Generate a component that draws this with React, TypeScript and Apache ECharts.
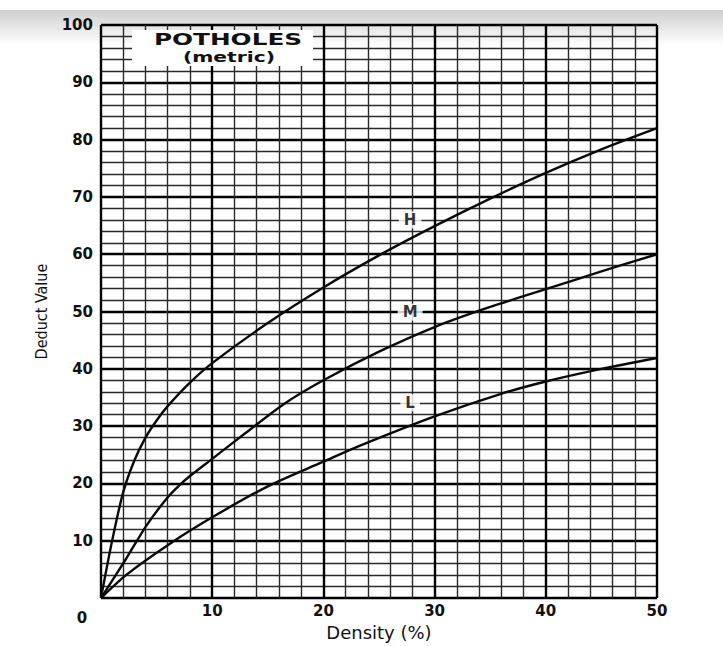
import React, { useEffect, useRef } from "react";
import * as echarts from "echarts";

const xTicks = [0, 10, 20, 30, 40, 50];
const yTicks = [0, 10, 20, 30, 40, 50, 60, 70, 80, 90, 100];

const densityH = [0, 1, 2, 3, 4, 5, 6, 8, 10, 15, 20, 25, 30, 35, 40, 45, 50];
const deductH = [0, 10, 18.5, 24, 28, 31, 33.5, 37.6, 41, 48, 54.2, 59.8, 64.9, 69.7, 74.2, 78.3, 82];

const densityM = [0, 2.3, 4.1, 6, 7, 8, 10, 13, 16.4, 20, 25, 30, 35, 40, 45, 50];
const deductM = [0, 7, 12.7, 17.6, 19.6, 21.3, 24.3, 28.8, 33.8, 38, 43, 47.3, 50.8, 53.9, 57, 60];

const densityL = [0, 2.3, 6.2, 10, 15, 20, 23.3, 30, 35.9, 40, 45, 50];
const deductL = [0, 4.1, 9.5, 14.1, 19.5, 23.8, 26.6, 31.7, 35.6, 37.8, 40, 41.9];

const curveLabels = ["H", "M", "L"];
const labelX = [27.8, 27.8, 27.8];
const labelY = [66, 49.9, 34.1];

const pair = (xs: number[], ys: number[]) => xs.map((x, i) => [x, ys[i]]);

export default function App() {
  const ref = useRef<HTMLDivElement>(null);
  useEffect(() => {
    if (!ref.current) return;
    const chart = echarts.init(ref.current, null, { renderer: "svg" });
    const labelFont = "DejaVu Sans";
    const lineStyle = { color: "#0a0a0a", width: 2.4 };
    const curveSeries = [
      pair(densityH, deductH),
      pair(densityM, deductM),
      pair(densityL, deductL),
    ].map((d, i) => ({
      type: "line",
      name: curveLabels[i],
      data: d,
      smooth: 0.3,
      showSymbol: false,
      symbol: "none",
      lineStyle,
      z: 3,
    }));
    chart.setOption({
      animation: false,
      backgroundColor: "#ffffff",
      grid: { left: 101, right: 66, top: 25, bottom: 39 },
      xAxis: {
        type: "value",
        min: xTicks[0],
        max: xTicks[xTicks.length - 1],
        interval: 10,
        name: "Density (%)",
        nameLocation: "middle",
        nameGap: 20,
        nameTextStyle: { fontFamily: labelFont, fontSize: 18, color: "#111" },
        axisLine: { show: false },
        axisTick: { show: false },
        axisLabel: {
          margin: 5,
          fontFamily: labelFont,
          fontWeight: "bold",
          fontSize: 15,
          color: "#111",
          formatter: (v: number) => (v === 0 ? "" : String(v)),
        },
        splitLine: { show: true, lineStyle: { color: "#000", width: 2.4 } },
        minorTick: { show: false, splitNumber: 5 },
        minorSplitLine: { show: true, lineStyle: { color: "#2a2a2a", width: 1.4 } },
      },
      yAxis: {
        type: "value",
        min: yTicks[0],
        max: yTicks[yTicks.length - 1],
        interval: 10,
        name: "Deduct Value",
        nameLocation: "middle",
        nameGap: 52,
        nameTextStyle: {
          fontFamily: "DejaVu Sans Condensed, Liberation Sans Narrow, Liberation Sans",
          fontSize: 16,
          color: "#111",
        },
        axisLine: { show: false },
        axisTick: { show: false },
        axisLabel: {
          margin: 8,
          fontFamily: labelFont,
          fontWeight: "bold",
          fontSize: 15,
          color: "#111",
          formatter: (v: number) => (v === 0 ? "" : String(v)),
        },
        splitLine: { show: true, lineStyle: { color: "#000", width: 2.4 } },
        minorTick: { show: false, splitNumber: 5 },
        minorSplitLine: { show: true, lineStyle: { color: "#2a2a2a", width: 1.4 } },
      },
      graphic: [
        {
          type: "rect",
          z: -10,
          silent: true,
          shape: { x: 0, y: 10, width: 723, height: 36 },
          style: {
            fill: new echarts.graphic.LinearGradient(0, 0, 0, 1, [
              { offset: 0, color: "#cfcfcf" },
              { offset: 1, color: "rgba(255,255,255,1)" },
            ]),
          },
        },
        {
          type: "rect",
          z: 5,
          silent: true,
          shape: { x: 132, y: 30, width: 181, height: 36 },
          style: { fill: "#ffffff" },
        },
        {
          type: "text",
          z: 6,
          x: 228,
          y: 40,
          scaleX: 1.65,
          style: {
            text: "POTHOLES",
            fontFamily: labelFont,
            fontWeight: "bold",
            fontSize: 15,
            fill: "#111",
            align: "center",
            verticalAlign: "middle",
          },
        },
        {
          type: "text",
          z: 6,
          x: 229,
          y: 57,
          scaleX: 1.45,
          style: {
            text: "(metric)",
            fontFamily: labelFont,
            fontWeight: "bold",
            fontSize: 14,
            fill: "#111",
            align: "center",
            verticalAlign: "middle",
          },
        },
        {
          type: "text",
          z: 6,
          x: 82,
          y: 618,
          style: {
            text: "0",
            fontFamily: labelFont,
            fontWeight: "bold",
            fontSize: 15,
            fill: "#111",
            align: "center",
            verticalAlign: "middle",
          },
        },
      ],
      series: [
        ...curveSeries,
        {
          type: "scatter",
          symbolSize: 1,
          itemStyle: { color: "rgba(0,0,0,0)" },
          z: 4,
          data: curveLabels.map((t, i) => ({ value: [labelX[i], labelY[i]], name: t })),
          label: {
            show: true,
            position: "inside",
            formatter: (p: any) => p.name,
            fontFamily: labelFont,
            fontWeight: "bold",
            fontSize: 15,
            color: "#000",
            textBorderWidth: 0,
            textBorderColor: "transparent",
            backgroundColor: "#ffffff",
            padding: [1, 5],
          },
        },
      ],
    });
    return () => chart.dispose();
  }, []);
  return (
    <div
      ref={ref}
      style={{ position: "fixed", left: 0, top: 0, width: 723, height: 646 }}
    />
  );
}
